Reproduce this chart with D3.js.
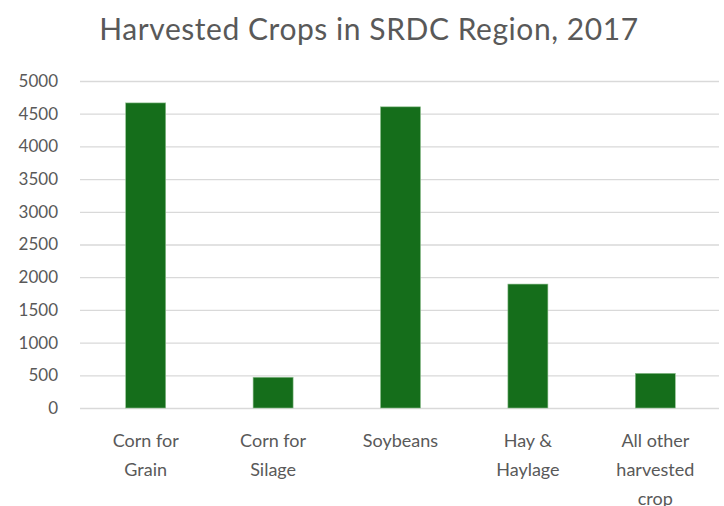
<!DOCTYPE html>
<html>
<head>
<meta charset="utf-8">
<script src="https://cdn.jsdelivr.net/npm/d3@7"></script>
<style>
  html, body { margin: 0; padding: 0; background: #fff; }
  svg { display: block; }
  text { font-family: Lato, "Open Sans", sans-serif; fill: #595959; }
</style>
</head>
<body>
<svg id="chart" width="724" height="506"></svg>
<script>
// Harvested crops by category (values in the SRDC region, 2017)
const categories = [
  ["Corn for", "Grain"],
  ["Corn for", "Silage"],
  ["Soybeans"],
  ["Hay &", "Haylage"],
  ["All other", "harvested", "crop"]
];
const values = [4665, 470, 4605, 1895, 530];
const yTicks = [0, 500, 1000, 1500, 2000, 2500, 3000, 3500, 4000, 4500, 5000];
const title = "Harvested Crops in SRDC Region, 2017";

const svg = d3.select("#chart");
const margin = { top: 81, right: 5, bottom: 98, left: 82 };
const width = 724 - margin.left - margin.right;
const height = 506 - margin.top - margin.bottom;

const x = d3.scaleBand()
  .domain(d3.range(categories.length))
  .range([0, width])
  .paddingInner(0.686)
  .paddingOuter(0.343);

const y = d3.scaleLinear().domain([0, 5000]).range([height, 0]);

const g = svg.append("g").attr("transform", `translate(${margin.left},${margin.top})`);

// Horizontal gridlines with tick labels
const yAxis = d3.axisLeft(y).tickValues(yTicks).tickSize(-width).tickPadding(24).tickFormat(d3.format("d"));
const ya = g.append("g").call(yAxis);
ya.select(".domain").remove();
ya.selectAll(".tick line").attr("stroke", "#d9d9d9").attr("stroke-width", 1.3).attr("x1", -2);
ya.selectAll(".tick text").attr("font-size", 17).attr("fill", "#595959")
  .style("font-family", "Lato, 'Open Sans', sans-serif");

// Bars
g.selectAll("rect.bar")
  .data(values)
  .enter().append("rect")
  .attr("class", "bar")
  .attr("x", (d, i) => x(i))
  .attr("width", x.bandwidth())
  .attr("y", d => y(d))
  .attr("height", d => height - y(d))
  .attr("fill", "#156e1b")
  .attr("stroke", "#8fbf8f")
  .attr("stroke-width", 0.6);

// Category labels (multi-line)
const labels = g.selectAll("text.cat")
  .data(categories)
  .enter().append("text")
  .attr("class", "cat")
  .attr("text-anchor", "middle")
  .attr("font-size", 18)
  .attr("transform", (d, i) => `translate(${x(i) + x.bandwidth() / 2},${height + 39})`);
labels.selectAll("tspan")
  .data(d => d)
  .enter().append("tspan")
  .attr("x", 0)
  .attr("dy", (d, i) => i === 0 ? 0 : 29)
  .text(d => d);

// Title
svg.append("text")
  .attr("x", 369)
  .attr("y", 40)
  .attr("text-anchor", "middle")
  .attr("font-size", 30)
  .attr("letter-spacing", 0.55)
  .text(title);
</script>
</body>
</html>
